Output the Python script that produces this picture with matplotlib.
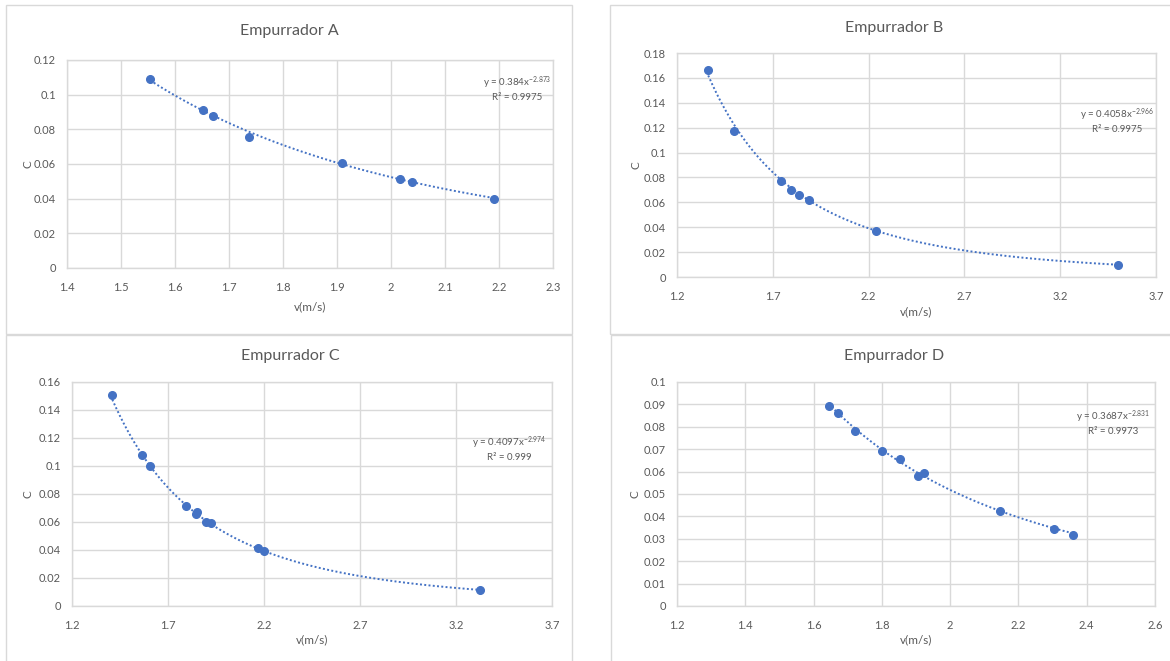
import numpy as np
import matplotlib
matplotlib.use('Agg')
import matplotlib.pyplot as plt
from matplotlib.patches import Rectangle

plt.rcParams['font.family'] = ['Lato', 'DejaVu Sans']
plt.rcParams['mathtext.fontset'] = 'custom'
plt.rcParams['mathtext.rm'] = 'Lato'
plt.rcParams['mathtext.it'] = 'Lato'
plt.rcParams['mathtext.default'] = 'regular'

# ==========================================
# DATOS
# ==========================================
titulos = ["Empurrador A", "Empurrador B", "Empurrador C", "Empurrador D"]

v_a = [1.554, 1.652, 1.671, 1.737, 1.909, 2.016, 2.039, 2.190]
c_a = [0.1092, 0.0910, 0.0879, 0.0756, 0.0606, 0.0512, 0.0496, 0.0398]

v_b = [1.363, 1.499, 1.741, 1.796, 1.836, 1.890, 2.237, 3.503]
c_b = [0.1660, 0.1171, 0.0771, 0.0701, 0.0658, 0.0618, 0.0373, 0.0094]

v_c = [1.410, 1.563, 1.604, 1.795, 1.845, 1.853, 1.898, 1.926, 2.167, 2.199, 3.325]
c_c = [0.1510, 0.1077, 0.0999, 0.0711, 0.0659, 0.0668, 0.0602, 0.0590, 0.0414, 0.0395, 0.0112]

v_d = [1.644, 1.672, 1.721, 1.799, 1.854, 1.906, 1.922, 2.145, 2.305, 2.361]
c_d = [0.0894, 0.0863, 0.0782, 0.0692, 0.0658, 0.0582, 0.0594, 0.0426, 0.0343, 0.0319]

# tendencia potencial y = a*x^b (de las etiquetas)
coef_a = [0.384, 0.4058, 0.4097, 0.3687]
coef_b = [-2.873, -2.966, -2.974, -2.831]
coef_a_txt = ["0.384", "0.4058", "0.4097", "0.3687"]
coef_b_txt = ["2.873", "2.966", "2.974", "2.831"]
r2_txt = ["0.9975", "0.9975", "0.999", "0.9973"]

xticks = [np.arange(1.4, 2.31, 0.1), np.arange(1.2, 3.71, 0.5),
          np.arange(1.2, 3.71, 0.5), np.arange(1.2, 2.61, 0.2)]
yticks = [np.arange(0, 0.121, 0.02), np.arange(0, 0.181, 0.02),
          np.arange(0, 0.161, 0.02), np.arange(0, 0.101, 0.01)]

# ==========================================
# LAYOUT (pixeles)
# ==========================================
W, H = 1170, 661
AZUL = '#4472C4'
GRIS = '#595959'
LINEA = '#d9d9d9'

areas = [(67, 60, 553, 268), (677, 53, 1156, 277),
         (72, 382, 552, 606), (677, 382, 1155, 606)]
bordes = [(6, 5, 572, 334), (610, 5, 1175, 334),
          (6, 335, 572, 670), (611, 335, 1175, 670)]
pos_titulo = [(289, 31), (894, 28), (290, 356), (894, 356)]
pos_xlabel = [(310, 307), (916, 312), (312, 640), (916, 640)]
pos_ylabel = [(28, 164), (636, 165), (28, 494), (635, 494)]
pos_eq = [(517, 83), (1117, 115), (509, 443), (1113, 417)]

datos = [(v_a, c_a), (v_b, c_b), (v_c, c_c), (v_d, c_d)]


def fx(px):
    return px / W


def fy(py):
    return 1 - py / H


fig = plt.figure(figsize=(W / 100, H / 100), dpi=100)
fig.patch.set_facecolor('white')

for i in range(4):
    l, t, r, b = bordes[i]
    fig.patches.append(Rectangle((fx(l), fy(b)), fx(r - l), (b - t) / H,
                                 transform=fig.transFigure, fill=False,
                                 edgecolor=LINEA, linewidth=1))

    l, t, r, b = areas[i]
    ax = fig.add_axes([fx(l), fy(b), fx(r - l), (b - t) / H])
    v, c = datos[i]

    xs = np.linspace(min(v), max(v), 200)
    ax.plot(xs, coef_a[i] * xs ** coef_b[i], color=AZUL, lw=1.4,
            linestyle=(0, (1, 1.2)), zorder=2)
    ax.plot(v, c, 'o', color=AZUL, markersize=5.5, zorder=3)

    ax.set_xlim(xticks[i][0], xticks[i][-1])
    ax.set_ylim(yticks[i][0], yticks[i][-1])
    ax.set_xticks(xticks[i])
    ax.set_yticks(yticks[i])
    ax.set_xticklabels(['{:g}'.format(round(x, 3)) for x in xticks[i]])
    ax.set_yticklabels(['{:g}'.format(round(y, 3)) for y in yticks[i]])
    ax.tick_params(length=0, labelsize=8, labelcolor=GRIS)
    ax.tick_params(axis='x', pad=10)
    ax.tick_params(axis='y', pad=8)
    ax.grid(True, color=LINEA, lw=1)
    ax.set_axisbelow(True)
    for s in ax.spines.values():
        s.set_color(LINEA)
        s.set_linewidth(1)

    tx, ty = pos_titulo[i]
    fig.text(fx(tx), fy(ty), titulos[i], ha='center', va='center',
             fontsize=11.5, color=GRIS)
    tx, ty = pos_xlabel[i]
    fig.text(fx(tx), fy(ty), 'v(m/s)', ha='center', va='center',
             fontsize=8.5, color=GRIS)
    tx, ty = pos_ylabel[i]
    fig.text(fx(tx), fy(ty), 'C', ha='center', va='center', rotation=90,
             fontsize=8.5, color=GRIS)
    tx, ty = pos_eq[i]
    fig.text(fx(tx), fy(ty), 'y = %sx$^{-%s}$' % (coef_a_txt[i], coef_b_txt[i]),
             ha='center', va='center', fontsize=7, color=GRIS)
    fig.text(fx(tx), fy(ty + 15), 'R² = %s' % r2_txt[i],
             ha='center', va='center', fontsize=7, color=GRIS)

plt.savefig('out.png', dpi=100)
plt.close()
